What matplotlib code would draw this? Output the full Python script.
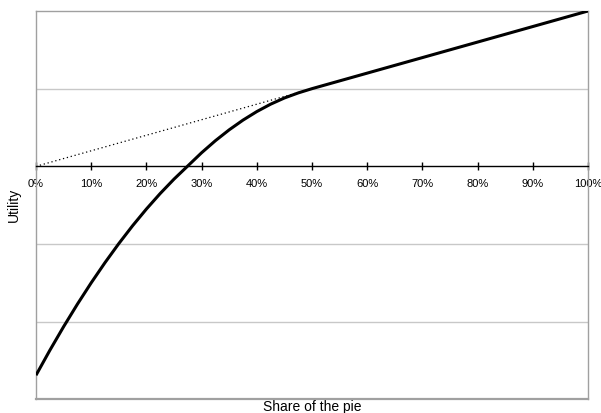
import matplotlib
matplotlib.use("Agg")
import matplotlib.pyplot as plt
from matplotlib.ticker import FixedLocator, FuncFormatter

plt.rcParams['font.family'] = ['Liberation Sans', 'DejaVu Sans']

# Data (share of the pie, utility)
share = [0.000, 0.025, 0.050, 0.075, 0.100, 0.125, 0.150, 0.175, 0.200, 0.225,
         0.250, 0.275, 0.300, 0.325, 0.350, 0.375, 0.400, 0.425, 0.450, 0.475,
         0.500, 0.525, 0.550, 0.600, 0.700, 0.800, 0.900, 1.000]
utility = [-2.69, -2.37, -2.065, -1.775, -1.50, -1.24, -0.995, -0.765, -0.55, -0.35,
           -0.165, 0.005, 0.175, 0.33, 0.47, 0.595, 0.705, 0.80, 0.88, 0.945,
           1.00, 1.05, 1.10, 1.20, 1.40, 1.60, 1.80, 2.00]
ref_share = [0.0, 0.5]
ref_utility = [0.0, 1.0]
xticks = [0.0, 0.1, 0.2, 0.3, 0.4, 0.5, 0.6, 0.7, 0.8, 0.9, 1.0]
grid_levels = [-2, -1, 1]

fig = plt.figure(figsize=(6.01, 4.13), dpi=100)
ax = fig.add_axes([36/601, 1-399.3/413, (588-36)/601, (399.3-11)/413])

ax.set_xlim(0, 1)
ax.set_ylim(-3, 2)

for g in grid_levels:
    ax.axhline(g, color='#c8c8c8', lw=1.0, zorder=1)

ax.plot(ref_share, ref_utility, color='black', lw=0.9, linestyle=(0, (1, 2.2)), zorder=2)
ax.plot(share, utility, color='black', lw=2.2, solid_capstyle='butt',
        solid_joinstyle='round', zorder=3)

border = '#a0a0a0'
for s in ['left', 'right', 'top']:
    ax.spines[s].set_color(border)
    ax.spines[s].set_linewidth(1.0)
ax.spines['bottom'].set_position(('data', 0))
ax.spines['bottom'].set_color('black')
ax.spines['bottom'].set_linewidth(1.0)
ax.axhline(-3, color=border, lw=1.6, clip_on=False, zorder=4)

ax.xaxis.set_major_locator(FixedLocator(xticks))
ax.xaxis.set_major_formatter(FuncFormatter(lambda v, p: f"{int(round(v*100))}%"))
ax.tick_params(axis='x', direction='inout', length=6, width=1.0, color='black',
               labelsize=8, pad=6)
ax.set_yticks([])

ax.set_xlabel('Share of the pie', fontsize=10)
ax.xaxis.set_label_coords(0.5, -0.002)
ax.set_ylabel('Utility', fontsize=10)
ax.yaxis.set_label_coords(-0.027, 0.5)

fig.savefig('out.png', dpi=100)
